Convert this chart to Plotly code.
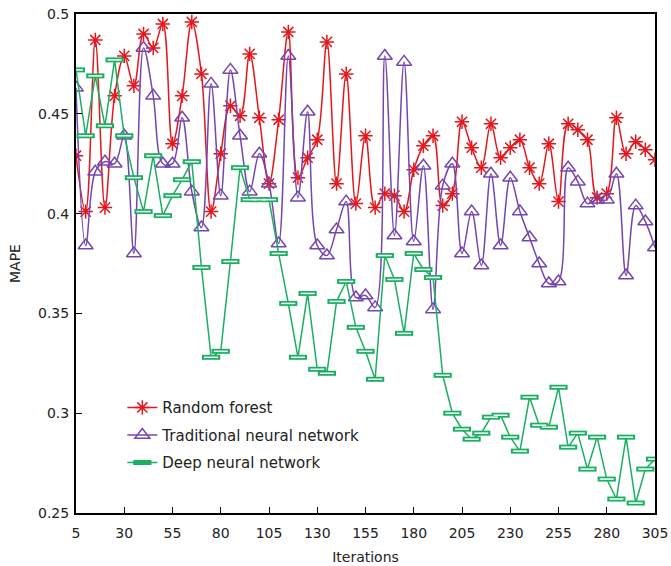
import plotly.graph_objects as go

iterations = list(range(5, 306, 5))

random_forest = [
    0.429, 0.401, 0.487, 0.403, 0.459, 0.479, 0.464, 0.490, 0.483, 0.495,
    0.435, 0.459, 0.496, 0.470, 0.401, 0.430, 0.454, 0.449, 0.480, 0.448,
    0.415, 0.447, 0.491, 0.418, 0.428, 0.437, 0.486, 0.415, 0.470, 0.405,
    0.439, 0.403, 0.410, 0.409, 0.401, 0.422, 0.434, 0.439, 0.404, 0.410,
    0.446, 0.433, 0.423, 0.445, 0.428, 0.433, 0.437, 0.423, 0.415, 0.435,
    0.406, 0.445, 0.442, 0.437, 0.408, 0.410, 0.448, 0.430, 0.436, 0.432,
    0.427,
]

traditional_nn = [
    0.463, 0.384, 0.421, 0.426, 0.425, 0.439, 0.380, 0.483, 0.459, 0.425,
    0.425, 0.448, 0.411, 0.393, 0.465, 0.409, 0.472, 0.439, 0.411, 0.430,
    0.415, 0.385, 0.479, 0.408, 0.451, 0.384, 0.379, 0.392, 0.406, 0.358,
    0.359, 0.353, 0.479, 0.389, 0.476, 0.386, 0.424, 0.352, 0.414, 0.425,
    0.380, 0.401, 0.374, 0.420, 0.384, 0.418, 0.401, 0.388, 0.375, 0.365,
    0.366, 0.423, 0.416, 0.405, 0.407, 0.407, 0.420, 0.369, 0.404, 0.396,
    0.383,
]

deep_nn = [
    0.472, 0.439, 0.469, 0.444, 0.477, 0.439, 0.418, 0.401, 0.429, 0.399,
    0.409, 0.417, 0.426, 0.373, 0.328, 0.331, 0.376, 0.423, 0.407, 0.407,
    0.407, 0.380, 0.355, 0.328, 0.360, 0.322, 0.320, 0.356, 0.366, 0.343,
    0.331, 0.317, 0.379, 0.367, 0.340, 0.380, 0.372, 0.368, 0.319, 0.300,
    0.292, 0.287, 0.290, 0.298, 0.299, 0.288, 0.281, 0.308, 0.294, 0.293,
    0.313, 0.283, 0.290, 0.272, 0.288, 0.267, 0.257, 0.288, 0.255, 0.272,
    0.277,
]

x_ticks = list(range(5, 306, 25))
y_ticks = [0.25, 0.3, 0.35, 0.4, 0.45, 0.5]
y_tick_text = ["0.25", "0.3", "0.35", "0.4", "0.45", "0.5"]

RED = "#e5161c"
PURPLE = "#7446b0"
GREEN = "#19b062"
FONT = "DejaVu Sans"
TXT = "#222222"

fig = go.Figure()

fig.add_trace(go.Scatter(
    x=iterations, y=random_forest, name="Random forest", legendgroup="rf",
    mode="lines+markers",
    line=dict(color=RED, width=1.5, shape="spline", smoothing=1),
    marker=dict(symbol="asterisk-open", size=12, color=RED,
                line=dict(color=RED, width=1.5)),
))

fig.add_trace(go.Scatter(
    x=iterations, y=traditional_nn, name="Traditional neural network", legendgroup="tnn",
    mode="lines+markers",
    line=dict(color=PURPLE, width=1.5, shape="spline", smoothing=1),
    marker=dict(symbol="triangle-up-open", size=13, color=PURPLE,
                line=dict(color=PURPLE, width=1.5)),
))

fig.add_trace(go.Scatter(
    x=iterations, y=deep_nn, name="Deep neural network", legendgroup="dnn",
    mode="lines+markers",
    line=dict(color=GREEN, width=1.5),
    marker=dict(symbol="line-ew-open", size=13, color=GREEN,
                line=dict(color=GREEN, width=5)),
))
fig.add_trace(go.Scatter(
    x=iterations, y=deep_nn, showlegend=False, hoverinfo="skip", legendgroup="dnn",
    mode="markers",
    marker=dict(symbol="line-ew-open", size=10, color="white",
                line=dict(color="white", width=1.5)),
))

fig.update_layout(
    width=671, height=566,
    margin=dict(l=76, r=16, t=14, b=53, autoexpand=False),
    plot_bgcolor="white", paper_bgcolor="white",
    font=dict(family=FONT, size=14, color=TXT),
    showlegend=True,
    legend=dict(
        x=0.08, y=0.244, xanchor="left", yanchor="top",
        bgcolor="rgba(0,0,0,0)", font=dict(family=FONT, size=15, color=TXT),
        traceorder="grouped", tracegroupgap=5, itemwidth=30,
    ),
)

fig.update_xaxes(
    range=[5, 305], tickvals=x_ticks, automargin=False,
    showgrid=False, zeroline=False,
    showline=True, linecolor="black", linewidth=2, mirror=True,
    ticks="inside", ticklen=6, tickcolor="black",
    ticklabelstandoff=6,
    title=dict(text="Iterations", standoff=12, font=dict(family=FONT, size=14)),
    tickfont=dict(family=FONT, size=14),
)
fig.update_yaxes(
    range=[0.25, 0.5], tickvals=y_ticks, ticktext=y_tick_text, automargin=False,
    showgrid=False, zeroline=False,
    showline=True, linecolor="black", linewidth=2, mirror=True,
    ticks="inside", ticklen=6, tickcolor="black",
    ticklabelstandoff=2,
    title=dict(text="MAPE", standoff=14, font=dict(family=FONT, size=14)),
    tickfont=dict(family=FONT, size=14),
)

fig.write_html("out.html")
